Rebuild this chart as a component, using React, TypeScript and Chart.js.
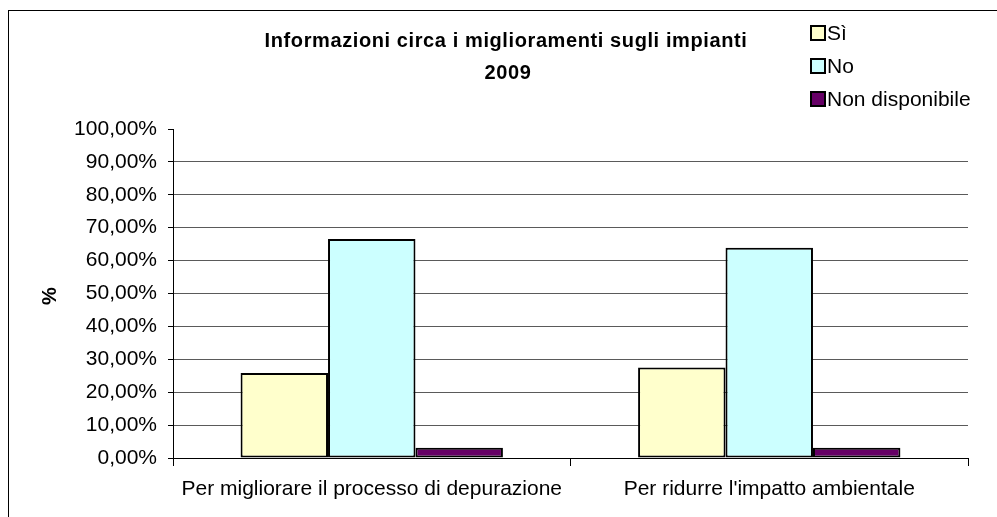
import { useEffect, useRef } from "react";
import { Chart, registerables } from "chart.js";

Chart.register(...registerables);

const categories = [
  "Per migliorare il processo di depurazione",
  "Per ridurre l'impatto ambientale",
];
const seriesNames = ["Sì", "No", "Non disponibile"];
const siValues = [25.8, 27.5];
const noValues = [66.6, 63.9];
const ndValues = [3.1, 3.1];
const seriesColors = ["#FFFFCC", "#CCFFFF", "#660066"];
const titleLines = ["Informazioni circa i miglioramenti sugli impianti", "2009"];
const yAxisTitle = "%";
const yMin = 0;
const yMax = 100;
const yStep = 10;

const FONT = "'Liberation Sans', Arial, sans-serif";

export default function App() {
  const canvasRef = useRef<HTMLCanvasElement | null>(null);

  useEffect(() => {
    const canvas = canvasRef.current;
    if (!canvas) return;

    const decor = {
      id: "decor",
      beforeDraw(chart: any) {
        const { ctx, width, height } = chart;
        ctx.save();
        ctx.fillStyle = "#ffffff";
        ctx.fillRect(0, 0, width, height);
        ctx.restore();
      },
      afterDraw(chart: any) {
        const { ctx } = chart;
        ctx.save();
        // outer border
        ctx.strokeStyle = "#000";
        ctx.lineWidth = 1;
        ctx.strokeRect(8.5, 10.5, 1100, 600);

        // title
        ctx.fillStyle = "#000";
        ctx.font = `bold 20px ${FONT}`;
        (ctx as any).letterSpacing = "0.6px";
        ctx.textAlign = "center";
        ctx.textBaseline = "middle";
        ctx.fillText(titleLines[0], 506, 41);
        ctx.fillText(titleLines[1], 508, 73);
        (ctx as any).letterSpacing = "0px";

        // y axis title
        ctx.save();
        ctx.translate(50, 296);
        ctx.rotate(-Math.PI / 2);
        ctx.font = `bold 20px ${FONT}`;
        ctx.fillText(yAxisTitle, 0, 0);
        ctx.restore();

        // legend
        ctx.font = `21px ${FONT}`;
        ctx.textAlign = "left";
        chart.data.datasets.forEach((ds: any, i: number) => {
          const cy = 33 + i * 33;
          ctx.fillStyle = ds.backgroundColor;
          ctx.fillRect(811, cy - 7, 14, 14);
          ctx.strokeStyle = "#000";
          ctx.lineWidth = 2;
          ctx.strokeRect(811, cy - 7, 14, 14);
          ctx.fillStyle = "#000";
          ctx.fillText(ds.label, 827, cy + 1);
        });
        ctx.restore();
      },
    };

    const chart = new Chart(canvas, {
      type: "bar",
      data: {
        labels: categories,
        datasets: [siValues, noValues, ndValues].map((vals, i) => ({
          label: seriesNames[i],
          data: vals,
          backgroundColor: seriesColors[i],
          borderColor: "#000",
          borderWidth: 2,
          borderSkipped: false,
          barPercentage: 1,
          categoryPercentage: 0.66,
        })),
      },
      options: {
        animation: false,
        responsive: false,
        maintainAspectRatio: false,
        devicePixelRatio: 1,
        layout: { padding: { top: 129, right: 29, left: 0, bottom: 0 } },
        plugins: {
          legend: { display: false },
          title: { display: false },
          tooltip: { enabled: false },
        },
        scales: {
          x: {
            grid: {
              offset: true,
              drawOnChartArea: false,
              tickLength: 8,
              color: "#000",
              tickColor: "#000",
            },
            border: { color: "#000", width: 1 },
            ticks: {
              color: "#000",
              font: { family: FONT, size: 21 },
              maxRotation: 0,
              autoSkip: false,
              padding: 11,
            },
            afterFit: (s: any) => {
              s.height = 59;
            },
          },
          y: {
            min: yMin,
            max: yMax,
            grid: {
              tickLength: 5,
              color: (c: any) =>
                c.tick && (c.tick.value === yMax || c.tick.value === yMin)
                  ? "rgba(0,0,0,0)"
                  : "#5a5a5a",
              tickColor: "#000",
            },
            border: { color: "#000", width: 1 },
            ticks: {
              stepSize: yStep,
              autoSkip: false,
              color: "#000",
              font: { family: FONT, size: 21 },
              padding: 11,
              callback: (v: any) => Number(v).toFixed(2).replace(".", ",") + "%",
            },
            afterFit: (s: any) => {
              s.width = 173;
            },
          },
        },
      },
      plugins: [decor],
    });

    return () => chart.destroy();
  }, []);

  return (
    <div style={{ position: "fixed", left: 0, top: 0, width: 997, height: 517, background: "#fff" }}>
      <canvas ref={canvasRef} width={997} height={517} style={{ width: 997, height: 517, display: "block" }} />
    </div>
  );
}
